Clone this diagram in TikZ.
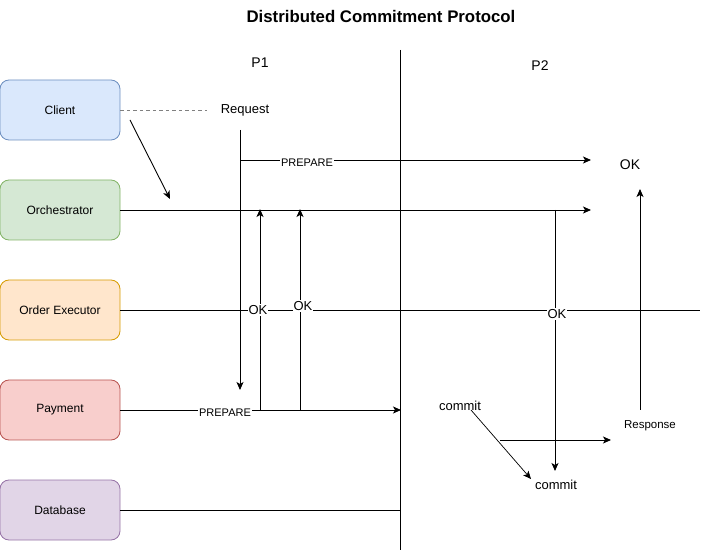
\documentclass[tikz,border=0pt]{standalone}
\usepackage{fontspec}
\setmainfont{Liberation Sans}
\usetikzlibrary{arrows.meta}
\definecolor{cfill}{HTML}{DAE8FC}\definecolor{cline}{HTML}{6C8EBF}
\definecolor{ofill}{HTML}{D5E8D4}\definecolor{oline}{HTML}{82B366}
\definecolor{efill}{HTML}{FFE6CC}\definecolor{eline}{HTML}{D79B00}
\definecolor{pfill}{HTML}{F8CECC}\definecolor{pline}{HTML}{B85450}
\definecolor{dfill}{HTML}{E1D5E7}\definecolor{dline}{HTML}{9673A6}
\definecolor{dashgray}{HTML}{808080}
\tikzset{
  actor/.style={draw, rounded corners=9pt, minimum width=120pt, minimum height=60pt, inner sep=0pt, font=\fontsize{12}{14}\selectfont, line width=0.8pt},
  wire/.style={line width=0.9pt},
  arr/.style={wire, -{Stealth[length=8pt,width=7pt,inset=2pt]}},
  lbl/.style={inner sep=1pt, font=\fontsize{12}{14}\selectfont},
  small/.style={inner sep=1pt, font=\fontsize{11}{13}\selectfont},
  wb/.style={fill=white}
}
\begin{document}
\begin{tikzpicture}[x=1pt,y=-1pt]
\useasboundingbox (0,0) rectangle (702,553);
% actors
\node[actor, fill=cfill, draw=cline] (client) at (60,110) {Client};
\node[actor, fill=ofill, draw=oline] (orch) at (60,210) {Orchestrator};
\node[actor, fill=efill, draw=eline] (exec) at (60,310) {Order Executor};
\node[actor, fill=pfill, draw=pline] (pay) at (60,410) {Payment};
\node[actor, fill=dfill, draw=dline] (db) at (60,510) {Database};
% title and phases
\node[font=\bfseries\fontsize{16.8}{19}\selectfont] (title) at (381,16) {Distributed Commitment Protocol};
\node[font=\fontsize{14}{16}\selectfont] (p1) at (260,63) {P1};
\node[font=\fontsize{14}{16}\selectfont] (p2) at (540,66) {P2};
% divider
\coordinate (dtop) at (400,50);
\coordinate (dbot) at (400,550);
\draw[wire] (dtop) -- (dbot);
% client request
\node[lbl, font=\fontsize{13}{15}\selectfont] (req) at (245,110) {Request};
\coordinate (dashend) at (207,110);
\draw[wire, dashgray, dash pattern=on 3.5pt off 3pt] (client.east) -- (dashend);
\coordinate (ca) at (130,120);
\coordinate (cb) at (170,199);
\draw[arr] (ca) -- (cb);
% P1 prepare vertical
\coordinate (v1t) at (240,130);
\coordinate (v1b) at (240,390);
\draw[arr] (v1t) -- (v1b);
\coordinate (pr1s) at (240,160);
\coordinate (pr1e) at (591,160);
\draw[arr] (pr1s) -- (pr1e);
\node[small, wb] (prep1) at (307,163) {PREPARE};
\node[font=\fontsize{14}{16}\selectfont] (okt) at (630,165) {OK};
% orchestrator line
\coordinate (oe) at (591,210);
\draw[arr] (orch.east) -- (oe);
% order executor line
\coordinate (ee) at (700,310);
\draw[wire] (exec.east) -- (ee);
% payment line
\coordinate (pe) at (401,410);
\draw[arr] (pay.east) -- (pe);
\node[small, wb] (prep2) at (225,413) {PREPARE};
% OK up arrows
\coordinate (u1b) at (260,410);
\coordinate (u1t) at (260,209);
\draw[arr] (u1b) -- (u1t);
\coordinate (u2b) at (300,410);
\coordinate (u2t) at (300,209);
\draw[arr] (u2b) -- (u2t);
\node[lbl, wb, font=\fontsize{13}{15}\selectfont] (ok1) at (258,310) {OK};
\node[lbl, wb, font=\fontsize{13}{15}\selectfont] (ok2) at (303,306) {OK};
% P2 down arrow
\coordinate (d2t) at (555,210);
\coordinate (d2b) at (555,471);
\draw[arr] (d2t) -- (d2b);
\node[lbl, wb, font=\fontsize{13}{15}\selectfont] (ok3) at (557,314) {OK};
% response
\node[small, font=\fontsize{11.5}{13}\selectfont] (resp) at (650,426) {Response};
\coordinate (rb) at (640,410);
\coordinate (rt) at (640,189);
\draw[arr] (rb) -- (rt);
% commit
\node[lbl, font=\fontsize{13}{15}\selectfont] (com1) at (460,406) {commit};
\node[lbl, font=\fontsize{13}{15}\selectfont] (com2) at (556,485) {commit};
\coordinate (cs) at (471,410);
\coordinate (ce) at (531,479);
\draw[arr, line width=0.7pt] (cs) -- (ce);
\coordinate (hs) at (500,440);
\coordinate (he) at (611,440);
\draw[arr] (hs) -- (he);
% database line
\coordinate (dbe) at (400,510);
\draw[wire] (db.east) -- (dbe);
\end{tikzpicture}
\end{document}
